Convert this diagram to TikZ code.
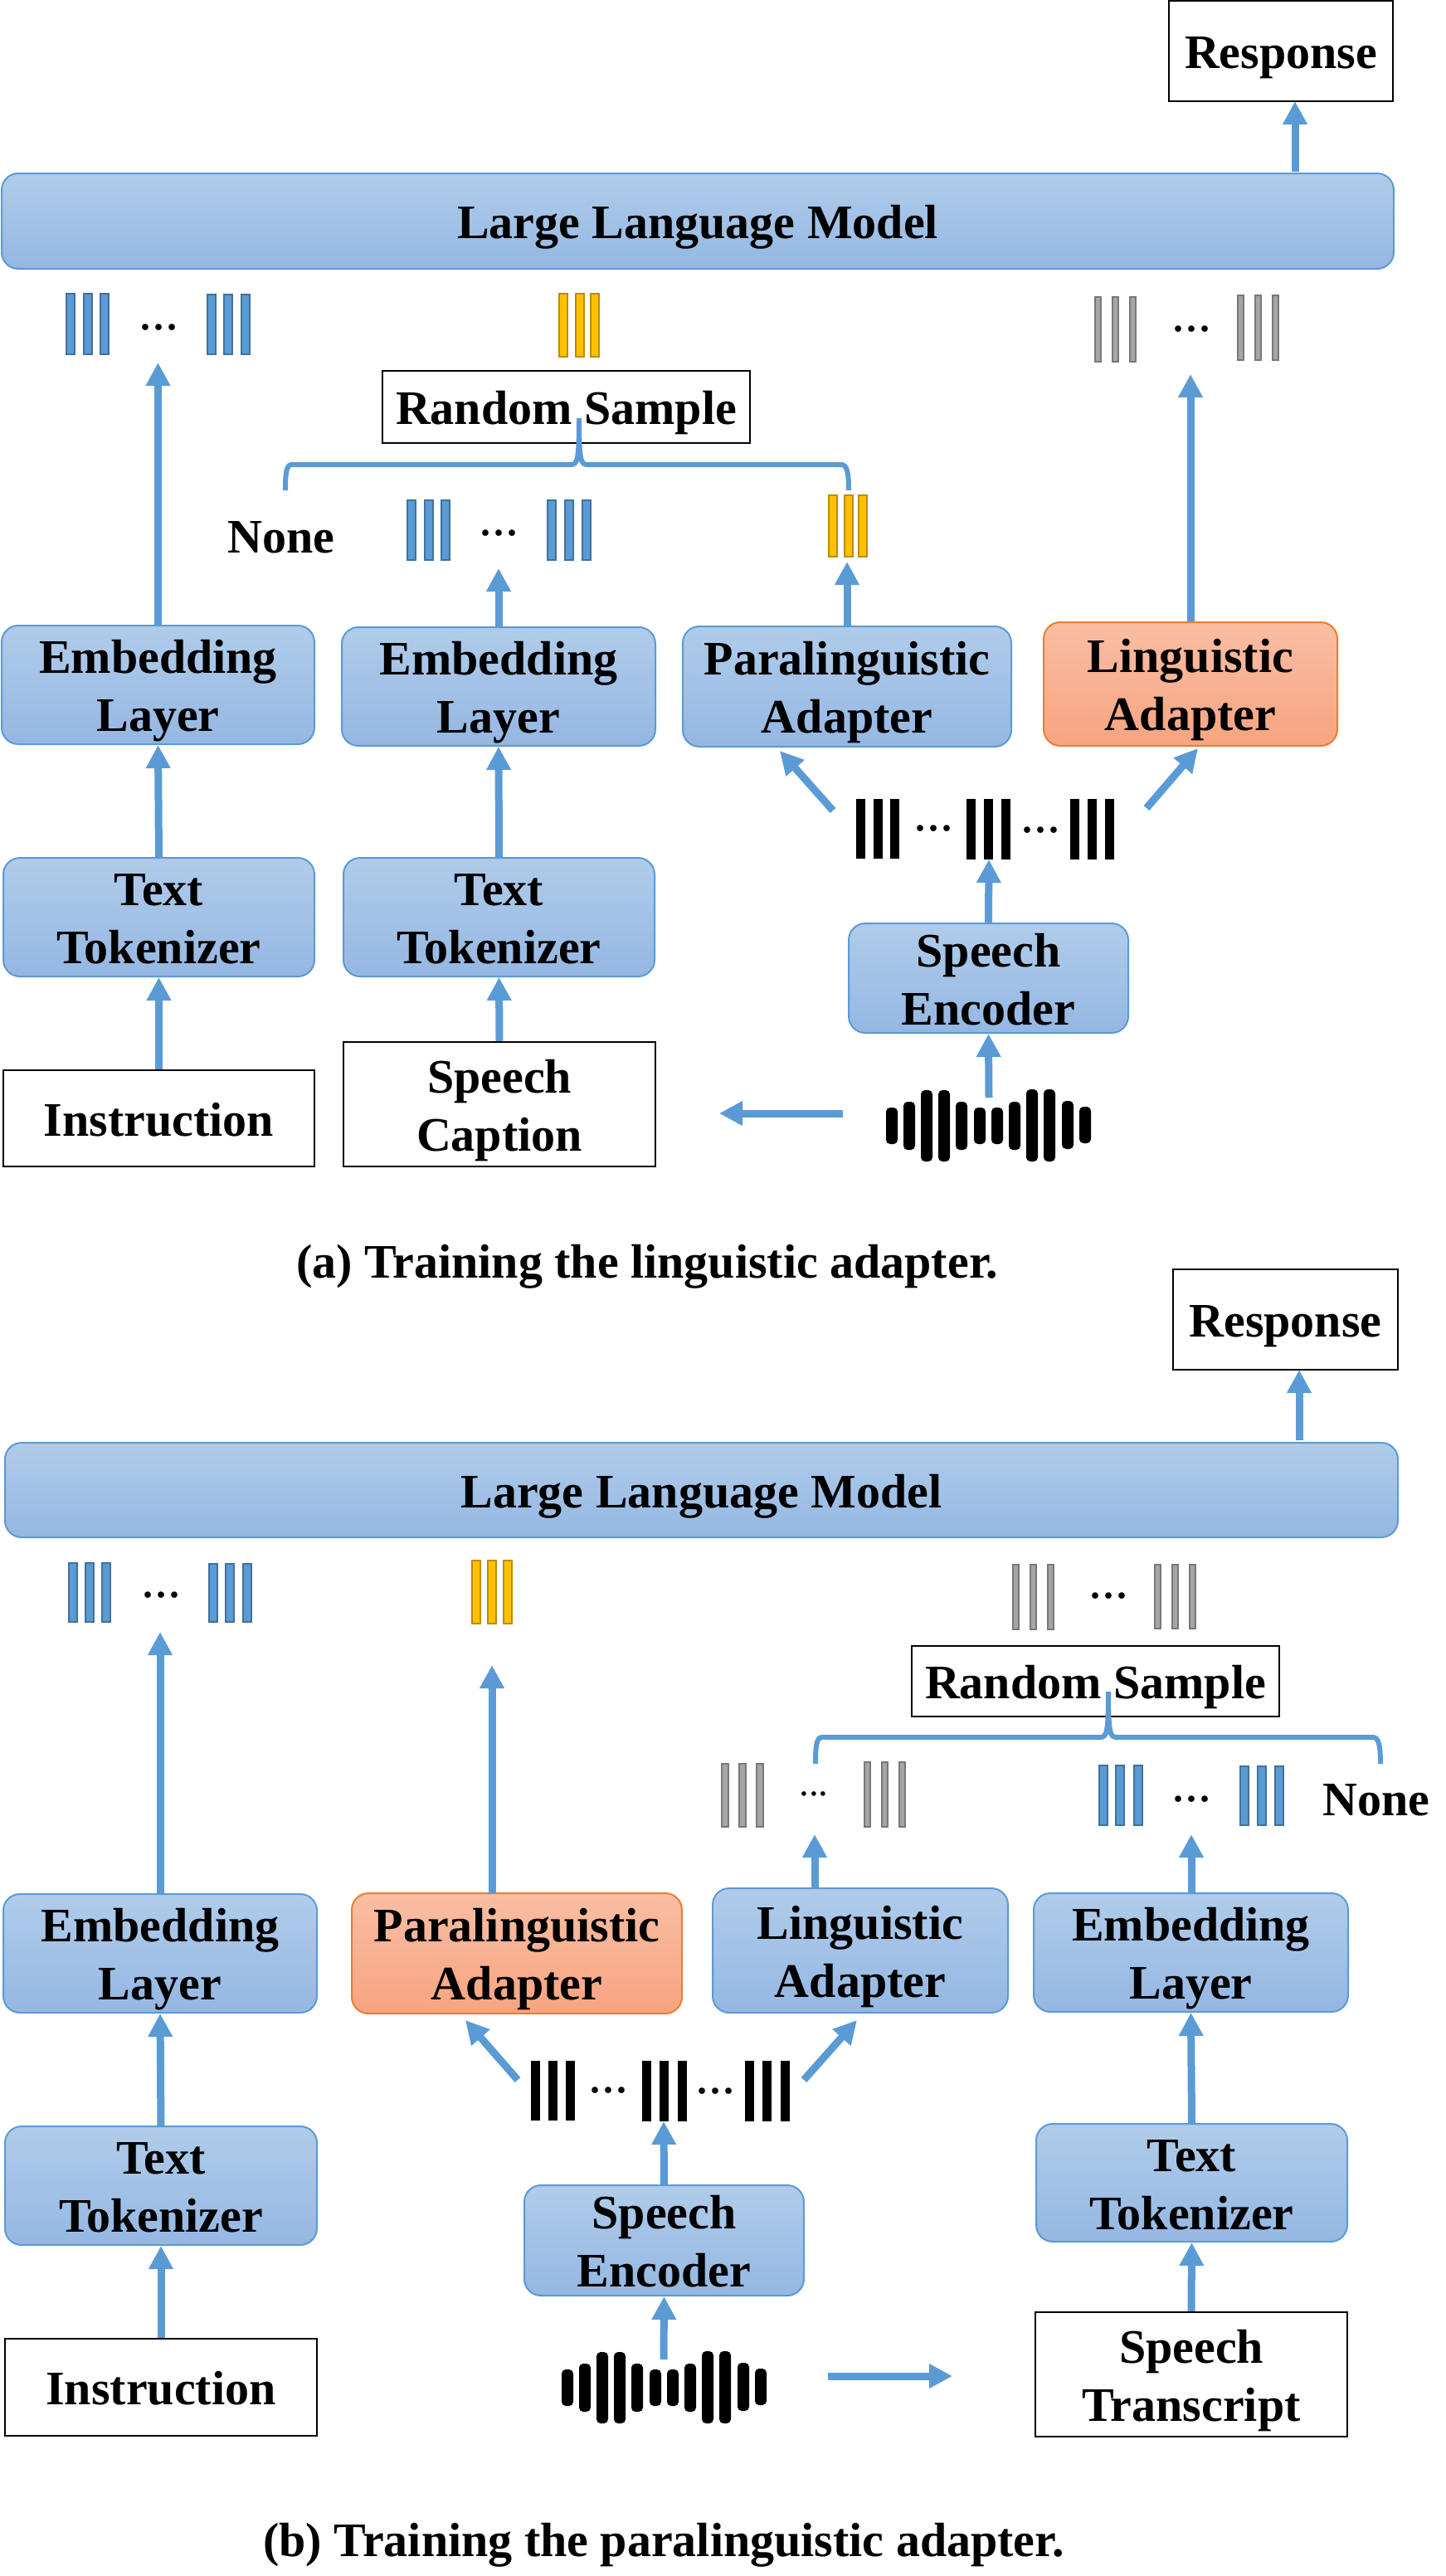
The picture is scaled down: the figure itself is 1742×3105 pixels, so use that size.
\documentclass[tikz,border=0pt]{standalone}
\usepackage{fontspec}
\setmainfont{Liberation Serif}
\usetikzlibrary{arrows.meta}
\definecolor{arrowblue}{HTML}{5B9BD5}
\definecolor{barblue}{HTML}{5B9BD5}
\definecolor{barblueedge}{HTML}{41719C}
\definecolor{baryellow}{HTML}{FFC000}
\definecolor{baryellowedge}{HTML}{BC8C00}
\definecolor{bargray}{HTML}{A5A5A5}
\definecolor{bargrayedge}{HTML}{787878}
\definecolor{boxtop}{HTML}{B1CCEA}
\definecolor{boxbot}{HTML}{94B7E2}
\definecolor{oratop}{HTML}{F9BEA4}
\definecolor{orabot}{HTML}{F7A480}
\definecolor{oraedge}{HTML}{ED7D31}
\newcommand\tl[1]{\raisebox{-1pt}[19pt][0pt]{#1}}
\tikzset{
  x=0.5pt,y=-0.5pt,
  lbl/.style={font=\fontsize{29}{35}\selectfont\bfseries,align=center,inner sep=0pt,text=black},
  bluebox/.style={lbl,rectangle,rounded corners=10pt,draw=arrowblue,line width=1pt,top color=boxtop,bottom color=boxbot},
  orabox/.style={lbl,rectangle,rounded corners=10pt,draw=oraedge,line width=1pt,top color=oratop,bottom color=orabot},
  whitebox/.style={lbl,rectangle,draw=black,line width=1.25pt,fill=white},
  plainlbl/.style={lbl},
  flow/.style={draw=arrowblue,line width=4.5pt,-{Triangle[length=14pt,width=14pt]}},
  bracepath/.style={draw=arrowblue,line width=3pt},
  blueb/.style={fill=barblue,draw=barblueedge,line width=1pt},
  yellowb/.style={fill=baryellow,draw=baryellowedge,line width=1pt},
  grayb/.style={fill=bargray,draw=bargrayedge,line width=1pt},
  blackb/.style={fill=black,draw=none},
  dotsbig/.style={font=\fontsize{32}{34}\selectfont,inner sep=0pt,anchor=base},
  dotssmall/.style={font=\fontsize{23.5}{26}\selectfont,inner sep=0pt,anchor=base},
  caplbl/.style={font=\fontsize{29}{34}\selectfont\bfseries,inner sep=0pt,anchor=base},
  wavebar/.style={fill=black,draw=none,rounded corners=2.5pt},
}
% style, name, x1, y1, x2, y2, text
\newcommand\bx[7]{\node[#1,minimum width={(#5-#3)*0.5pt},minimum height={(#6-#4)*0.5pt}] (#2) at ({(#3+#5)/2},{(#4+#6)/2}) {#7};}
% style, width, y1, y2, x list
\newcommand\bars[5]{\foreach \xx in {#5} {\draw[#1] (\xx,#3) rectangle (\xx+#2,#4);}}
\newcommand\wave{%
  \foreach \xx/\yy/\zz in {1068/1335/1379,1089/1328/1386,1110/1314/1400,1131/1314/1400,1152/1328/1386,1174/1335/1379,1195/1335/1379,1216/1328/1386,1237/1313/1400,1258/1313/1400,1280/1327/1385,1301/1334/1378}
    {\fill[wavebar] (\xx,\yy) rectangle (\xx+14,\zz);}}
\begin{document}
\begin{tikzpicture}
\useasboundingbox (0,0) rectangle (1742,3105);
%%%%%%%%%%%%%%%% panel (a)
\bx{whitebox}{a-resp}{1409}{1}{1679}{122}{\tl{Response}}
\bx{bluebox}{a-llm}{2}{209}{1680}{324}{\tl{Large Language Model}}
\bx{whitebox}{a-rs}{461}{447}{904}{534}{\tl{Random Sample}}
\bx{bluebox}{a-emb1}{2}{754}{379}{897}{\tl{Embedding}\\\tl{Layer}}
\bx{bluebox}{a-emb2}{412}{756}{790}{899}{\tl{Embedding}\\\tl{Layer}}
\bx{bluebox}{a-para}{823}{755}{1219}{900}{\tl{Paralinguistic}\\\tl{Adapter}}
\bx{orabox}{a-ling}{1258}{750}{1612}{899}{\tl{Linguistic}\\\tl{Adapter}}
\bx{bluebox}{a-tok1}{4}{1034}{379}{1177}{\tl{Text}\\\tl{Tokenizer}}
\bx{bluebox}{a-tok2}{414}{1034}{789}{1177}{\tl{Text}\\\tl{Tokenizer}}
\bx{bluebox}{a-enc}{1023}{1113}{1360}{1245}{\tl{Speech}\\\tl{Encoder}}
\bx{whitebox}{a-ins}{4}{1290}{379}{1406}{\tl{Instruction}}
\bx{whitebox}{a-cap}{414}{1256}{790}{1406}{\tl{Speech}\\\tl{Caption}}
\node[plainlbl] (a-none) at (339,645) {\tl{None}};
\node[caplbl] (a-title) at (780,1540) {(a) Training the linguistic adapter.};
% bars
\bars{blueb}{10}{354}{427}{80,101,121}
\bars{blueb}{10}{355}{427}{250,270,291}
\node[dotsbig] (a-d1) at (191,397) {...};
\bars{yellowb}{10}{354}{430}{674,694,712}
\bars{grayb}{7}{358}{436}{1320,1341,1362}
\bars{grayb}{7}{356}{434}{1492,1513,1534}
\node[dotsbig] (a-d2) at (1436,399) {...};
\bars{blueb}{10}{603}{675}{491,512,532}
\bars{blueb}{10}{603}{675}{660,681,702}
\node[dotsbig] (a-d3) at (601,645) {...};
\bars{yellowb}{10}{597}{671}{999,1018,1035}
\bars{blackb}{11}{963}{1035}{1032,1053,1073}
\bars{blackb}{11}{963}{1036}{1165,1186,1207}
\bars{blackb}{11}{963}{1036}{1290,1311,1332}
\node[dotsbig] (a-d4) at (1125.5,1001) {...};
\node[dotsbig] (a-d5) at (1254,1003) {...};
\wave
% connector ends
\coordinate (a-o1) at (1561,207);
\coordinate (a-t1) at (1561,122);
\coordinate (a-t2) at (190.5,437);
\coordinate (a-t3) at (601,685);
\coordinate (a-t4) at (1021,677);
\coordinate (a-t5) at (1435,451);
\coordinate (a-b1) at (1192,1036);
\coordinate (a-s1) at (1004,977);
\coordinate (a-t6) at (940,905);
\coordinate (a-s2) at (1382,974);
\coordinate (a-t7) at (1444,902);
\coordinate (a-w1) at (1192,1323);
\coordinate (a-w2) at (1016,1342);
\coordinate (a-t8) at (867,1342);
\draw[flow] (a-o1) -- (a-t1);
\draw[flow] (a-emb1.north) -- (a-t2);
\draw[flow] (a-emb2.north) -- (a-t3);
\draw[flow] (a-para.north) -- (a-t4);
\draw[flow] (a-ling.north) -- (a-t5);
\draw[flow] (a-tok1.north) -- (a-emb1.south);
\draw[flow] (a-tok2.north) -- (a-emb2.south);
\draw[flow] (a-ins.north) -- (a-tok1.south);
\draw[flow] (a-cap.north) -- (a-tok2.south);
\draw[flow] (a-enc.north) -- (a-b1);
\draw[flow] (a-s1) -- (a-t6);
\draw[flow] (a-s2) -- (a-t7);
\draw[flow] (a-w1) -- (a-enc.south);
\draw[flow] (a-w2) -- (a-t8);
\draw[bracepath] (344,591) .. controls (344,570) and (345,560) .. (352,560) -- (688,560) .. controls (696,560) and (698,555) .. (698,504) .. controls (698,555) and (700,560) .. (708,560) -- (1014,560) .. controls (1021,560) and (1023,570) .. (1023,591);
%%%%%%%%%%%%%%%% panel (b)
\bx{whitebox}{b-resp}{1414}{1530}{1685}{1651}{\tl{Response}}
\bx{bluebox}{b-llm}{6}{1739}{1685}{1853}{\tl{Large Language Model}}
\bx{whitebox}{b-rs}{1099}{1984}{1542}{2069}{\tl{Random Sample}}
\bx{bluebox}{b-emb1}{4}{2283}{382}{2426}{\tl{Embedding}\\\tl{Layer}}
\bx{orabox}{b-para}{424}{2282}{822}{2427}{\tl{Paralinguistic}\\\tl{Adapter}}
\bx{bluebox}{b-ling}{859}{2276}{1215}{2426}{\tl{Linguistic}\\\tl{Adapter}}
\bx{bluebox}{b-emb2}{1246}{2282}{1625}{2425}{\tl{Embedding}\\\tl{Layer}}
\bx{bluebox}{b-tok1}{6}{2563}{382}{2706}{\tl{Text}\\\tl{Tokenizer}}
\bx{bluebox}{b-tok2}{1249}{2560}{1624}{2702}{\tl{Text}\\\tl{Tokenizer}}
\bx{bluebox}{b-enc}{632}{2634}{969}{2767}{\tl{Speech}\\\tl{Encoder}}
\bx{whitebox}{b-ins}{6}{2819}{382}{2936}{\tl{Instruction}}
\bx{whitebox}{b-tr}{1248}{2787}{1624}{2937}{\tl{Speech}\\\tl{Transcript}}
\node[plainlbl] (b-none) at (1659,2167) {\tl{None}};
\node[caplbl] (b-title) at (800,3081) {(b) Training the paralinguistic adapter.};
\bars{blueb}{10}{1884}{1955}{83,103,123}
\bars{blueb}{10}{1885}{1955}{252,272,293}
\node[dotsbig] (b-d1) at (194,1925) {...};
\bars{yellowb}{10}{1881}{1957}{569,588,607}
\bars{grayb}{7}{1886}{1964}{1221,1242,1263}
\bars{grayb}{7}{1886}{1963}{1392,1413,1434}
\node[dotsbig] (b-d2) at (1336,1926) {...};
\bars{grayb}{8}{2126}{2202}{870,891,912}
\bars{grayb}{7}{2124}{2202}{1042,1063,1084}
\node[dotssmall] (b-d3) at (981,2164) {...};
\bars{blueb}{10}{2128}{2200}{1325,1345,1367}
\bars{blueb}{10}{2129}{2200}{1495,1516,1537}
\node[dotsbig] (b-d4) at (1436,2171) {...};
\bars{blackb}{11}{2484}{2556}{640,661,682}
\bars{blackb}{11}{2484}{2557}{774,795,817}
\bars{blackb}{11}{2484}{2557}{898,919,941}
\node[dotsbig] (b-d5) at (733.5,2522) {...};
\node[dotsbig] (b-d6) at (862.5,2523) {...};
\begin{scope}[shift={(-391,1521)}]\wave\end{scope}
\coordinate (b-o1) at (1566,1736);
\coordinate (b-t1) at (1566,1651);
\coordinate (b-t2) at (193,1967);
\coordinate (b-t3) at (593,2007);
\coordinate (b-t4) at (982,2211);
\coordinate (b-t5) at (1436,2211);
\coordinate (b-o3) at (593,2282);
\coordinate (b-o4) at (982,2276);
\coordinate (b-o5) at (1436,2282);
\coordinate (b-b1) at (800,2557);
\coordinate (b-s1) at (624,2507);
\coordinate (b-t6) at (561,2435);
\coordinate (b-s2) at (969,2507);
\coordinate (b-t7) at (1033,2435);
\coordinate (b-w1) at (800,2844);
\coordinate (b-w2) at (998,2864);
\coordinate (b-t8) at (1148,2864);
\draw[flow] (b-o1) -- (b-t1);
\draw[flow] (b-emb1.north) -- (b-t2);
\draw[flow] (b-o3) -- (b-t3);
\draw[flow] (b-o4) -- (b-t4);
\draw[flow] (b-o5) -- (b-t5);
\draw[flow] (b-tok1.north) -- (b-emb1.south);
\draw[flow] (b-tok2.north) -- (b-emb2.south);
\draw[flow] (b-ins.north) -- (b-tok1.south);
\draw[flow] (b-tr.north) -- (b-tok2.south);
\draw[flow] (b-enc.north) -- (b-b1);
\draw[flow] (b-s1) -- (b-t6);
\draw[flow] (b-s2) -- (b-t7);
\draw[flow] (b-w1) -- (b-enc.south);
\draw[flow] (b-w2) -- (b-t8);
\draw[bracepath] (983,2126) .. controls (983,2105) and (984,2094) .. (991,2094) -- (1326,2094) .. controls (1334,2094) and (1336,2089) .. (1336,2039) .. controls (1336,2089) and (1338,2094) .. (1346,2094) -- (1655,2094) .. controls (1662,2094) and (1664,2105) .. (1664,2126);
\end{tikzpicture}
\end{document}
